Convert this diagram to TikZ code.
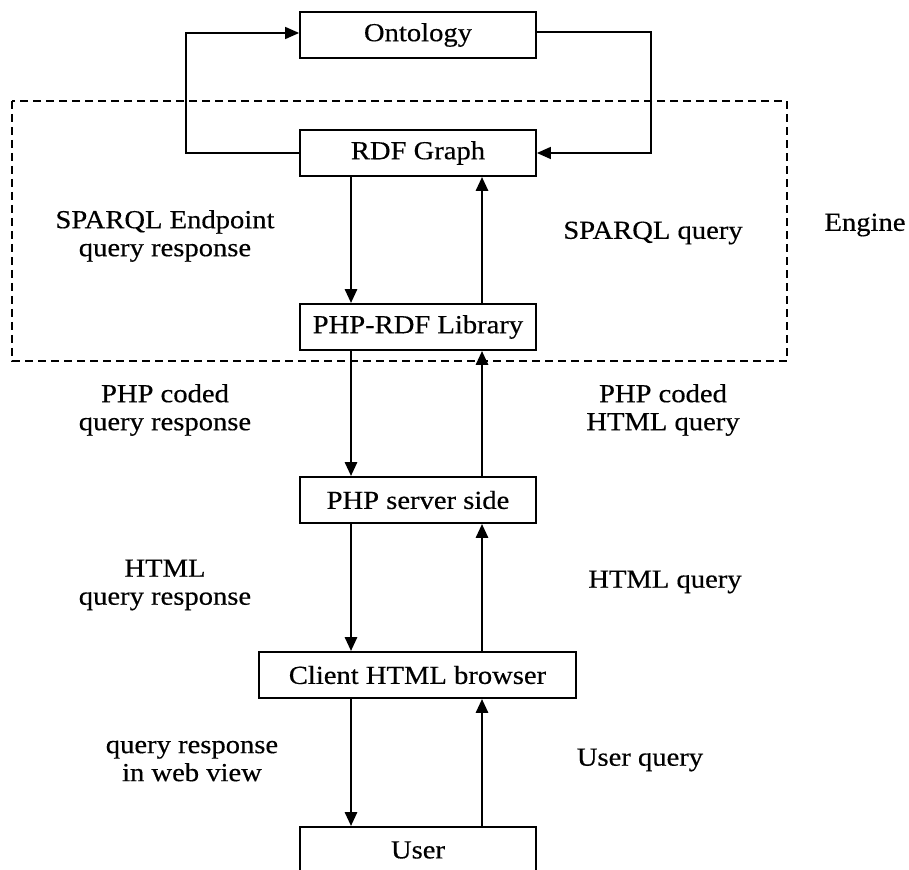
\documentclass[tikz,border=0pt]{standalone}
\usepackage{fontspec}
\setmainfont{Liberation Serif}[FakeStretch=1.1,FakeBold=0.4]
\usetikzlibrary{positioning,arrows.meta}

\begin{document}
\begin{tikzpicture}[x=0.5pt,y=-0.5pt,
	box/.style={draw,line width=0.9pt,minimum width=118pt,minimum height=23pt,inner sep=0pt},
	flow/.style={line width=1.4pt,-{Triangle[length=7pt,width=6pt]}},
	feedback/.style={line width=0.8pt,-{Triangle[length=7pt,width=6pt]}},
	lbl/.style={align=center}]
		\tikzstyle{every node}+=[font=\fontsize{13}{14}\selectfont]
		\useasboundingbox (0,0) rectangle (909,870);
		\clip (0,0) rectangle (909,870);
		% engine frame
		\draw [dashed,dash pattern=on 4pt off 2.5pt,line width=0.7pt] (12,101) rectangle (787,361);
		\node (engine) at (865,225) {Engine};
		% boxes
		\node [box] (onto) at (418,35) {Ontology};
		\node [box] (rdf) at (418,153) {RDF Graph};
		\node [box] (lib) at (418,327) {PHP-RDF Library};
		\node [box] (server) at (418,500) {PHP server side};
		\node [box,minimum width=158.5pt] (client) at (417.5,675) {Client HTML browser};
		\node [box] (user) at (418,850) {User};
		\coordinate (dl) at (351,0);
		\coordinate (ul) at (482,0);
		% ontology loop
		\draw [feedback] (rdf.west) -| (186,33) -- (onto.west |- 0,33);
		\draw [feedback] (onto.east |- 0,32) -| (651,153) -- (rdf.east);
		% down and up flows
		\draw [flow] (rdf.south -| dl) -- (lib.north -| dl);
		\draw [flow] (lib.north -| ul) -- (rdf.south -| ul);
		\draw [flow] (lib.south -| dl) -- (server.north -| dl);
		\draw [flow] (server.north -| ul) -- (lib.south -| ul);
		\draw [flow] (server.south -| dl) -- (client.north -| dl);
		\draw [flow] (client.north -| ul) -- (server.south -| ul);
		\draw [flow] (client.south -| dl) -- (user.north -| dl);
		\draw [flow] (user.north -| ul) -- (client.south -| ul);
		% labels
		\node [lbl] (sparqlresp) at (165,236) {SPARQL Endpoint\\query response};
		\node [lbl] (sparqlq) at (653,233) {SPARQL query};
		\node [lbl] (phpresp) at (165,410) {PHP coded\\query response};
		\node [lbl] (phpq) at (663,410) {PHP coded\\HTML query};
		\node [lbl] (htmlresp) at (165,585) {HTML\\query response};
		\node [lbl] (htmlq) at (665,582) {HTML query};
		\node [lbl] (webview) at (192,761) {query response\\in web view};
		\node [lbl] (userq) at (640,760) {User query};
\end{tikzpicture}
\end{document}
